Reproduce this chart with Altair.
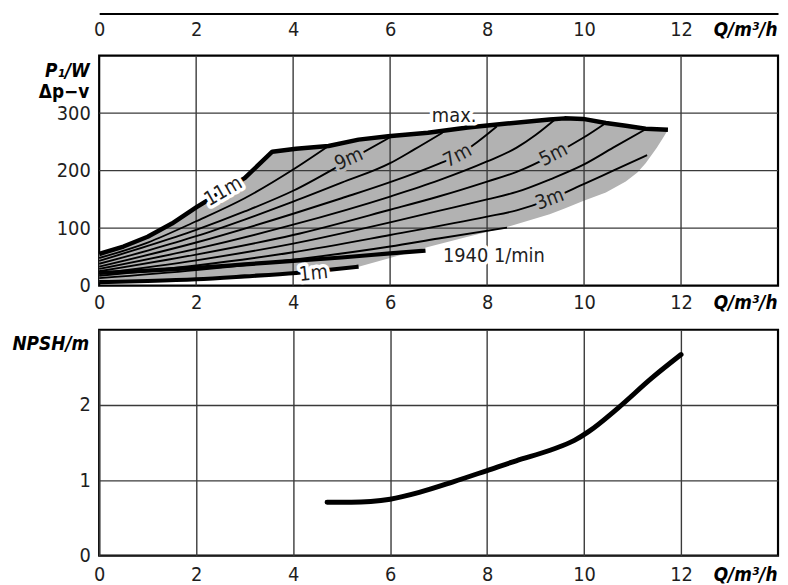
import altair as alt
import pandas as pd

FONT = "DejaVu Sans Condensed, DejaVu Sans"
GRAY = "#b2b2b2"
GRID = "#3a3a3a"
TXT = "#1e1e1e"

X_TICKS = [0, 2, 4, 6, 8, 10, 12]
X_GRID = [2, 4, 6, 8, 10, 12]
P_TICKS = [0, 100, 200, 300]
P_GRID = [100, 200, 300]
NPSH_TICKS = [0, 1, 2]

# shaded operating range (upper = 11 m / max. speed, lower = 1 m / right limit)
AREA_Q = [0, 0.5, 1, 1.5, 2, 2.5, 3, 3.57, 4.06, 4.73, 5.35, 5.96, 6.78, 7.6, 8.41,
          9.29, 9.6, 9.98, 10.45, 10.86, 11.1, 11.27, 11.5, 11.65, 11.73]
AREA_TOP = [55, 68, 85, 108, 136, 162, 187, 233, 238, 243, 254, 260, 266, 275, 282,
            289, 291, 290, 283, 278, 275, 273, 272, 271, 271]
AREA_BOTTOM = [6, 7, 8, 9.5, 11, 13, 16, 19, 22, 27.5, 33, 47, 67, 85, 102,
               124, 134, 147, 162, 181, 197, 213, 240, 260, 271]

# thick envelope: 11 m up to the max. curve
MAX_Q = [0, 0.5, 1, 1.5, 2, 2.5, 3, 3.57, 4.06, 4.73, 5.35, 5.96, 6.78, 7.6, 8.41,
         9.29, 9.6, 9.98, 10.45, 10.86, 11.27, 11.73]
MAX_P = [55, 68, 85, 108, 136, 162, 187, 233, 238, 243, 254, 260, 266, 275, 282,
         289, 291, 290, 283, 278, 273, 271]

# min. speed 1940 1/min (thick)
MIN_Q = [0, 1, 2, 3, 4, 5, 6, 6.73]
MIN_P = [22, 26, 31, 37, 43, 49, 56, 61]

# 1 m (thick)
H1_Q = [0, 1, 2, 3, 4.06, 4.8, 5.35]
H1_P = [6, 8, 11, 16, 22, 28, 33]

# thin Δp-v curves
H2_Q = [0, 2, 4, 6, 7, 8.41]
H2_P = [13, 27, 45, 68, 82, 101]
H3_Q = [0, 2, 4, 6, 8, 8.61, 9.29, 9.98, 10.6, 11.3]
H3_P = [17, 35, 58, 88, 120, 131, 150, 176, 200, 227]
H4_Q = [0, 2, 4, 6, 7, 8, 8.61, 9.3, 9.98, 10.6, 11.27]
H4_P = [21, 44, 73, 110, 130, 150, 163, 185, 210, 240, 272]
H5_Q = [0, 2, 4, 6, 7, 8, 8.61, 9.37, 10.0, 10.45]
H5_P = [25, 54, 88, 132, 155, 181, 198, 228, 258, 283]
H6_Q = [0, 2, 4, 6, 7, 8, 8.61, 9.0, 9.4]
H6_P = [29, 64, 106, 155, 183, 216, 240, 262, 289]
H7_Q = [0, 2, 4, 5, 6, 7, 7.39, 7.8, 8.2]
H7_P = [33, 75, 125, 152, 180, 212, 226, 250, 277]
H8_Q = [0, 1, 2, 3, 4, 5, 6, 6.5, 7.08]
H8_P = [38, 61, 86, 115, 146, 179, 213, 237, 266]
H9_Q = [0, 1, 2, 3, 4, 5.15, 6.0]
H9_P = [43, 69, 97, 129, 165, 218, 258]
H10_Q = [0, 1, 2, 3, 4, 4.73]
H10_P = [48, 75, 112, 152, 202, 243]

# curve labels
LABEL_TEXT = ["max.", "11m", "9m", "7m", "5m", "3m", "1940 1/min", "1m"]
LABEL_Q = [7.32, 2.56, 5.15, 7.39, 9.37, 9.29, 8.14, 4.42]
LABEL_P = [295, 164, 220, 226, 228, 150, 52, 21]
LABEL_ANGLE = [0, 330, 336, 332, 333, 339, 0, 354]
LABEL_HALO = ["white", "white", GRAY, GRAY, GRAY, GRAY, "white", "white"]

# NPSH
NPSH_Q = [4.7, 5.2, 5.6, 6.0, 6.6, 7.3, 8.0, 8.6, 9.3, 9.8, 10.1, 10.7, 11.4, 12.0]
NPSH_V = [0.71, 0.71, 0.72, 0.75, 0.84, 0.98, 1.13, 1.26, 1.40, 1.53, 1.65, 1.96, 2.36, 2.67]

W = 685
XS = alt.Scale(domain=[0, 14], nice=False, zero=False)
PS = alt.Scale(domain=[0, 400], nice=False)
NS = alt.Scale(domain=[0, 3], nice=False)


def curve(name, qs, ps):
    return pd.DataFrame({"curve": name, "q": qs, "p": ps})


def x_axis(pad, grid=False):
    return alt.Axis(values=X_TICKS, grid=grid, gridColor=GRID, gridWidth=1.4,
                    ticks=False, tickSize=0, domain=False,
                    labelPadding=pad, labelFlush=False, labelOverlap=False,
                    title="Q/m³/h", titleX=W - 1, titleY=pad + 15.8, titleAlign="right",
                    titleBaseline="alphabetic", titleFontSize=19, titleFontWeight="bold",
                    titleFontStyle="italic")


def p_axis():
    return alt.Axis(values=P_TICKS, grid=False, ticks=False, tickSize=0, domain=False,
                    labelPadding=9, title="P₁/W", titleAngle=0, titleAlign="right",
                    titleBaseline="middle", titleX=-10, titleY=15, titleFontSize=19,
                    titleFontWeight="bold", titleFontStyle="italic")


MID_PAD = 7.5

thin_df = pd.concat([
    curve("2m", H2_Q, H2_P), curve("3m", H3_Q, H3_P), curve("4m", H4_Q, H4_P),
    curve("5m", H5_Q, H5_P), curve("6m", H6_Q, H6_P), curve("7m", H7_Q, H7_P),
    curve("8m", H8_Q, H8_P), curve("9m", H9_Q, H9_P), curve("10m", H10_Q, H10_P),
])
thick_df = pd.concat([curve("min", MIN_Q, MIN_P), curve("1m", H1_Q, H1_P)])
max_df = curve("max", MAX_Q, MAX_P)
area_df = pd.DataFrame({"q": AREA_Q, "p": AREA_TOP, "p2": AREA_BOTTOM})
lab_df = pd.DataFrame({"t": LABEL_TEXT, "q": LABEL_Q, "p": LABEL_P,
                       "angle": LABEL_ANGLE, "halo": LABEL_HALO})

# ---------- top strip (axis only) ----------
top = alt.Chart(pd.DataFrame({"q": X_TICKS})).mark_point(opacity=0, size=1).encode(
    x=alt.X("q:Q", scale=XS, axis=alt.Axis(
        values=X_TICKS, grid=False, ticks=False, tickSize=0, domain=True,
        domainColor="black", domainWidth=2, labelPadding=6.5, labelFlush=False,
        labelOverlap=False, title="Q/m³/h", titleX=W - 1, titleY=6.5 + 15.8,
        titleAlign="right", titleBaseline="alphabetic", titleFontSize=19,
        titleFontWeight="bold", titleFontStyle="italic"))
).properties(width=W, height=3, view=alt.ViewBackground(strokeOpacity=0))

# ---------- power panel ----------
X_MID = alt.X("q:Q", scale=XS, axis=x_axis(MID_PAD))
Y_MID = alt.Y("p:Q", scale=PS, axis=p_axis())

area = alt.Chart(area_df).mark_area(color=GRAY, opacity=1, interpolate="linear").encode(
    x=X_MID, y=Y_MID, y2="p2:Q")
vgrid = alt.Chart(pd.DataFrame({"q": X_GRID})).mark_rule(color=GRID, strokeWidth=1.4).encode(
    x=X_MID)
hgrid = alt.Chart(pd.DataFrame({"p": P_GRID})).mark_rule(color=GRID, strokeWidth=1.4).encode(
    y=Y_MID)
thin = alt.Chart(thin_df).mark_line(color="black", strokeWidth=1.9, interpolate="monotone").encode(
    x=X_MID, y=Y_MID, detail="curve:N")
thick = alt.Chart(thick_df).mark_line(color="black", strokeWidth=4.2, interpolate="monotone").encode(
    x=X_MID, y=Y_MID, detail="curve:N")
maxl = alt.Chart(max_df).mark_line(color="black", strokeWidth=4.5, interpolate="linear",
                                    strokeJoin="round").encode(x=X_MID, y=Y_MID)
halo = alt.Chart(lab_df).mark_text(font=FONT, fontSize=20, strokeWidth=7, strokeJoin="round",
                                   baseline="middle", align="center").encode(
    x=X_MID, y=Y_MID, text="t:N", angle=alt.Angle("angle:Q", scale=None),
    color=alt.Color("halo:N", scale=None), stroke=alt.Stroke("halo:N", scale=None))
labels = alt.Chart(lab_df).mark_text(font=FONT, fontSize=20, color=TXT,
                                     baseline="middle", align="center").encode(
    x=X_MID, y=Y_MID, text="t:N", angle=alt.Angle("angle:Q", scale=None))
dpv = alt.Chart(pd.DataFrame({"t": ["Δp−v"]})).mark_text(
    font=FONT, fontSize=19, fontWeight="bold", color="black", align="right", baseline="middle"
).encode(x=alt.value(-10), y=alt.value(37), text="t:N")

mid = alt.layer(area, vgrid, hgrid, thin, thick, maxl, halo, labels, dpv).properties(
    width=W, height=232)

# ---------- NPSH panel ----------
npsh = alt.Chart(pd.DataFrame({"q": NPSH_Q, "n": NPSH_V})).mark_line(
    color="black", strokeWidth=5, interpolate="monotone", strokeCap="round"
).encode(
    x=alt.X("q:Q", scale=XS, axis=x_axis(9.5, grid=True)),
    y=alt.Y("n:Q", scale=NS, axis=alt.Axis(
        values=NPSH_TICKS, grid=True, gridColor=GRID, gridWidth=1.4, ticks=False, tickSize=0,
        domain=False, labelPadding=9, title="NPSH/m", titleAngle=0, titleAlign="left",
        titleBaseline="middle", titleX=-88, titleY=14, titleFontSize=19,
        titleFontWeight="bold", titleFontStyle="italic")),
).properties(width=W, height=228)

chart = alt.vconcat(top, mid, npsh, spacing=13.5).properties(
    padding={"left": 2, "top": 0, "right": 0, "bottom": 0}
).configure_view(stroke="black", strokeWidth=2.2).configure_axis(
    labelFont=FONT, labelFontSize=20, labelColor=TXT, titleFont=FONT, titleColor="black"
)

chart.save("out.html", embed_options={"renderer": "svg", "actions": False})
